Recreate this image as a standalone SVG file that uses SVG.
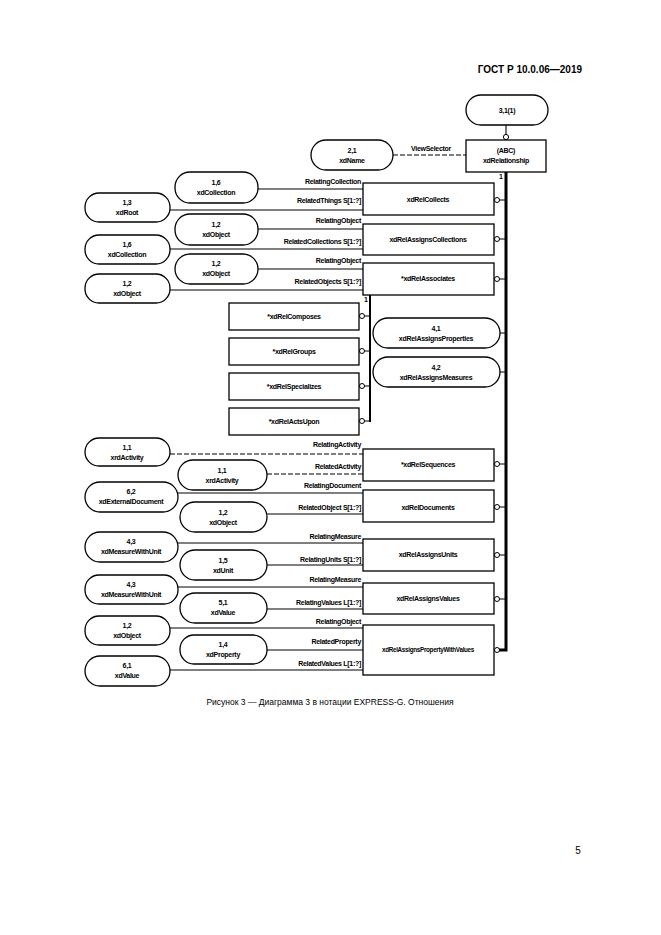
<svg xmlns="http://www.w3.org/2000/svg" width="661" height="935" viewBox="0 0 661 935">
<style>
text{font-family:"Liberation Sans",Arial,sans-serif;font-size:7px;font-weight:bold;fill:#000;letter-spacing:-0.3px}
.c{text-anchor:middle}.r{text-anchor:end}
.n rect{fill:#fff;stroke:#000;stroke-width:1.3}
.l{stroke:#000;stroke-width:1.1;fill:none}
.d{stroke:#000;stroke-width:1.1;fill:none;stroke-dasharray:5,2}
.t{stroke:#000;stroke-width:3;fill:none}
.o{fill:#fff;stroke:#000;stroke-width:1}
</style>
<rect width="661" height="935" fill="#fff"/>
<text x="582" y="73" class="r" style="font-size:10px;letter-spacing:0">ГОСТ Р 10.0.06—2019</text>
<g id="connectors">
<path class="l" d="M506 125V134"/>
<circle class="o" cx="506" cy="137" r="2.6"/>
<path class="d" d="M393 155H466"/>
<text x="431" y="151" class="c">ViewSelector</text>
<path class="t" d="M506 172V650H497"/>
<text x="499" y="179">1</text>
<path class="l" d="M497 200H506M497 239H506M497 279H506M497 464H506M497 507H506M497 555H506M497 599H506M500 333H506M500 372H506"/>
<g fill="#fff" stroke="#000"><circle cx="497" cy="200" r="2.5"/><circle cx="497" cy="239" r="2.5"/><circle cx="497" cy="279" r="2.5"/><circle cx="497" cy="464" r="2.5"/><circle cx="497" cy="507" r="2.5"/><circle cx="497" cy="555" r="2.5"/><circle cx="497" cy="599" r="2.5"/><circle cx="497" cy="650" r="2.5"/></g>
<path class="l" style="stroke-width:2" d="M370 295V422"/>
<text x="364" y="302">1</text>
<path class="l" d="M362 316H370M362 351H370M362 386H370M362 421H370"/>
<g fill="#fff" stroke="#000"><circle cx="362" cy="316" r="2.5"/><circle cx="362" cy="351" r="2.5"/><circle cx="362" cy="386" r="2.5"/><circle cx="362" cy="421" r="2.5"/></g>
<path class="l" d="M258 189H363M170 210H363M258 229H363M170 249H363M258 269H363M170 290H363"/>
<text x="361" y="184" class="r">RelatingCollection</text>
<text x="361" y="203" class="r">RelatedThings S[1:?]</text>
<text x="361" y="223" class="r">RelatingObject</text>
<text x="361" y="244" class="r">RelatedCollections S[1:?]</text>
<text x="361" y="263" class="r">RelatingObject</text>
<text x="361" y="284" class="r">RelatedObjects S[1:?]</text>
<path class="d" d="M170 454H363M267 474H363"/>
<path class="l" d="M178 493H363M267 514H363M178 543H363M267 565H363M178 587H363M267 609H363M170 628H363M267 650H363M170 670H363"/>
<text x="361" y="447" class="r">RelatingActivity</text>
<text x="361" y="469" class="r">RelatedActivity</text>
<text x="361" y="488" class="r">RelatingDocument</text>
<text x="361" y="510" class="r">RelatedObject S[1:?]</text>
<text x="361" y="539" class="r">RelatingMeasure</text>
<text x="361" y="562" class="r">RelatingUnits S[1:?]</text>
<text x="361" y="582" class="r">RelatingMeasure</text>
<text x="361" y="605" class="r">RelatingValues L[1:?]</text>
<text x="361" y="624" class="r">RelatingObject</text>
<text x="361" y="644" class="r">RelatedProperty</text>
<text x="361" y="666" class="r">RelatedValues L[1:?]</text>
</g>
<g class="n">
<g id="n31"><rect x="466" y="95" width="82" height="30" rx="15"/><text x="507" y="113" class="c">3,1(1)</text></g>
<g id="xdRelationship"><rect x="466" y="140" width="80" height="32"/><text x="506" y="153" class="c">(ABC)</text><text x="506" y="163" class="c">xdRelationship</text></g>
<g id="xdName"><rect x="311" y="140" width="82" height="30" rx="15"/><text x="352" y="153" class="c">2,1</text><text x="352" y="163" class="c">xdName</text></g>
<g id="b1"><rect x="363" y="183" width="131" height="32"/><text x="428" y="202" class="c">xdRelCollects</text></g>
<g id="b2"><rect x="363" y="224" width="131" height="31"/><text x="428" y="242" class="c">xdRelAssignsCollections</text></g>
<g id="b3"><rect x="363" y="263" width="131" height="32"/><text x="428" y="281" class="c">*xdRelAssociates</text></g>
<g id="b4"><rect x="363" y="449" width="131" height="32"/><text x="428" y="467" class="c">*xdRelSequences</text></g>
<g id="b5"><rect x="363" y="490" width="131" height="32"/><text x="428" y="510" class="c">xdRelDocuments</text></g>
<g id="b6"><rect x="363" y="539" width="131" height="32"/><text x="428" y="557" class="c">xdRelAssignsUnits</text></g>
<g id="b7"><rect x="363" y="583" width="131" height="31"/><text x="428" y="601" class="c">xdRelAssignsValues</text></g>
<g id="b8"><rect x="363" y="625" width="131" height="50"/><text x="428" y="652" class="c" style="font-size:6.3px">xdRelAssignsPropertyWithValues</text></g>
<g id="s1"><rect x="229" y="303" width="130" height="27"/><text x="294" y="319" class="c">*xdRelComposes</text></g>
<g id="s2"><rect x="229" y="338" width="130" height="27"/><text x="294" y="354" class="c">*xdRelGroups</text></g>
<g id="s3"><rect x="229" y="373" width="130" height="27"/><text x="294" y="389" class="c">*xdRelSpecializes</text></g>
<g id="s4"><rect x="229" y="408" width="130" height="27"/><text x="294" y="424" class="c">*xdRelActsUpon</text></g>
<g id="p41"><rect x="373" y="318" width="127" height="30" rx="15"/><text x="436" y="331" class="c">4,1</text><text x="436" y="341" class="c">xdRelAssignsProperties</text></g>
<g id="p42"><rect x="373" y="357" width="127" height="30" rx="15"/><text x="436" y="370" class="c">4,2</text><text x="436" y="380" class="c">xdRelAssignsMeasures</text></g>
<g id="l1"><rect x="175" y="172" width="83" height="31" rx="15"/><text x="216" y="185" class="c">1,6</text><text x="216" y="195" class="c">xdCollection</text></g>
<g id="l2"><rect x="85" y="193" width="85" height="29" rx="14"/><text x="127" y="205" class="c">1,3</text><text x="127" y="215" class="c">xdRoot</text></g>
<g id="l3"><rect x="175" y="214" width="83" height="31" rx="15"/><text x="216" y="227" class="c">1,2</text><text x="216" y="237" class="c">xdObject</text></g>
<g id="l4"><rect x="85" y="235" width="85" height="29" rx="14"/><text x="127" y="247" class="c">1,6</text><text x="127" y="257" class="c">xdCollection</text></g>
<g id="l5"><rect x="175" y="254" width="83" height="30" rx="15"/><text x="216" y="266" class="c">1,2</text><text x="216" y="276" class="c">xdObject</text></g>
<g id="l6"><rect x="85" y="274" width="85" height="29" rx="14"/><text x="127" y="286" class="c">1,2</text><text x="127" y="296" class="c">xdObject</text></g>
<g id="l7"><rect x="85" y="438" width="85" height="28" rx="14"/><text x="127" y="450" class="c">1,1</text><text x="127" y="460" class="c">xrdActivity</text></g>
<g id="l8"><rect x="178" y="460" width="89" height="30" rx="15"/><text x="222" y="473" class="c">1,1</text><text x="222" y="483" class="c">xrdActivity</text></g>
<g id="l9"><rect x="85" y="482" width="93" height="30" rx="15"/><text x="131" y="494" class="c">6,2</text><text x="131" y="504" class="c">xdExternalDocument</text></g>
<g id="l10"><rect x="180" y="502" width="87" height="30" rx="15"/><text x="223" y="515" class="c">1,2</text><text x="223" y="525" class="c">xdObject</text></g>
<g id="l11"><rect x="85" y="532" width="93" height="30" rx="15"/><text x="131" y="544" class="c">4,3</text><text x="131" y="554" class="c">xdMeasureWithUnit</text></g>
<g id="l12"><rect x="180" y="550" width="87" height="30" rx="15"/><text x="223" y="563" class="c">1,5</text><text x="223" y="573" class="c">xdUnit</text></g>
<g id="l13"><rect x="85" y="575" width="93" height="29" rx="14"/><text x="131" y="587" class="c">4,3</text><text x="131" y="597" class="c">xdMeasureWithUnit</text></g>
<g id="l14"><rect x="180" y="593" width="87" height="30" rx="15"/><text x="223" y="605" class="c">5,1</text><text x="223" y="615" class="c">xdValue</text></g>
<g id="l15"><rect x="85" y="616" width="85" height="29" rx="14"/><text x="127" y="628" class="c">1,2</text><text x="127" y="638" class="c">xdObject</text></g>
<g id="l16"><rect x="180" y="635" width="87" height="29" rx="14"/><text x="223" y="647" class="c">1,4</text><text x="223" y="657" class="c">xdProperty</text></g>
<g id="l17"><rect x="85" y="656" width="85" height="30" rx="15"/><text x="127" y="668" class="c">6,1</text><text x="127" y="678" class="c">xdValue</text></g>
</g>
<text x="330" y="705" class="c" style="font-size:8.5px;font-weight:normal;letter-spacing:0">Рисунок 3 — Диаграмма 3 в нотации EXPRESS-G. Отношения</text>
<text x="578" y="854" class="c" style="font-size:10px;font-weight:normal;letter-spacing:0">5</text>
</svg>
